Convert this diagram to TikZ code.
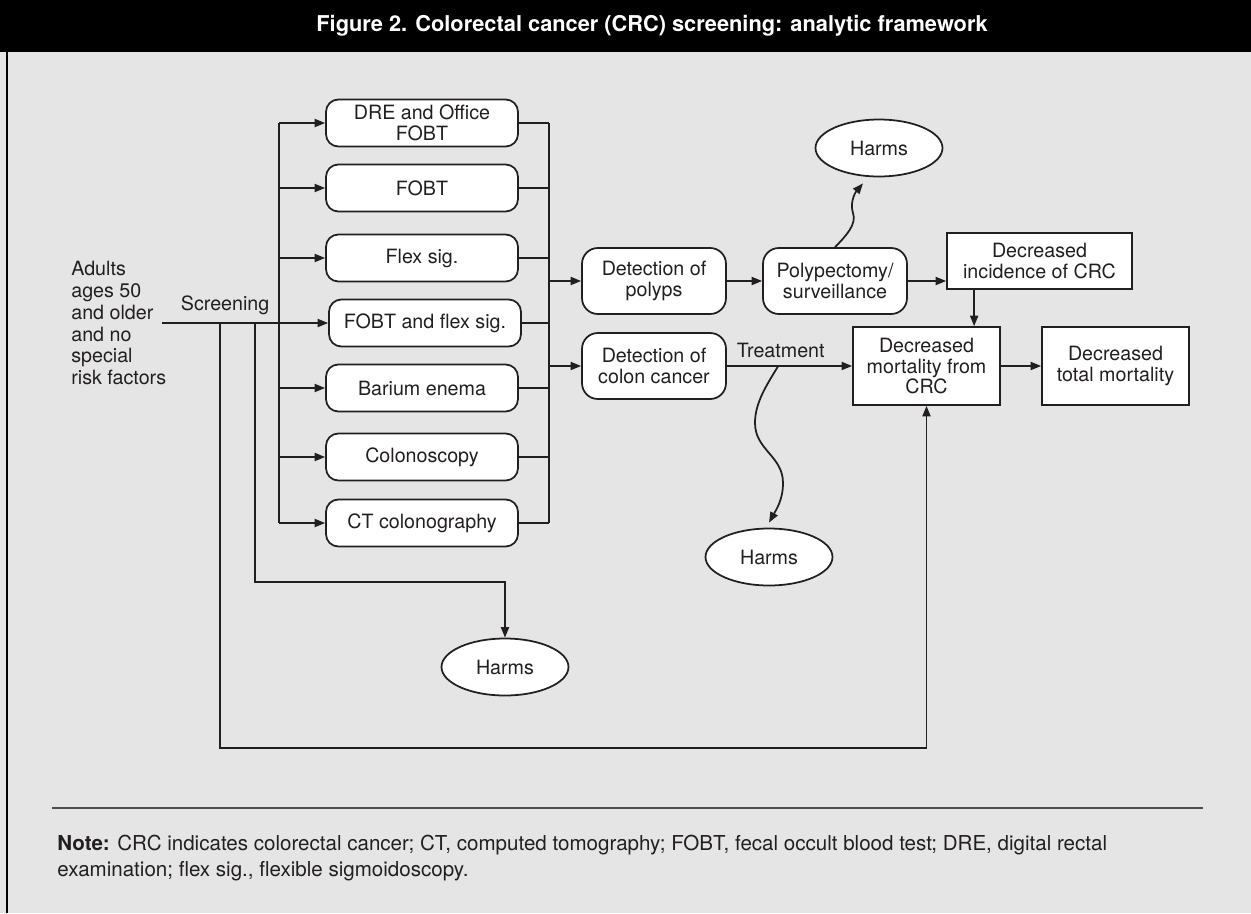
\documentclass[tikz,border=0pt]{standalone}
\usepackage{fontspec}
\setmainfont{TeX Gyre Heros}
\usepackage{xcolor}
\usetikzlibrary{shapes.geometric,arrows.meta,positioning}
\definecolor{ink}{HTML}{231F20}
\definecolor{panel}{HTML}{E5E5E5}
\definecolor{rulegray}{HTML}{4D4D4D}
\newcommand{\boxfont}{\fontsize{11.2}{11.6}\selectfont}
\tikzstyle{arrow} = [line width=1pt,-{Triangle[length=6pt,width=4.6pt]}]
\tikzstyle{wire} = [line width=1pt]
\tikzstyle{test} = [draw=ink,fill=white,line width=1pt,rounded corners=7pt,minimum width=3.84cm,minimum height=0.94cm,inner sep=0pt,align=center,font=\boxfont]
\tikzstyle{stage} = [test,minimum width=2.88cm,minimum height=1.32cm,rounded corners=9pt]
\tikzstyle{outcome} = [draw=ink,fill=white,line width=1pt,inner sep=0pt,align=center,font=\boxfont]
\tikzstyle{harm} = [ellipse,draw=ink,fill=white,line width=1pt,minimum width=2.54cm,minimum height=1.14cm,inner sep=0pt,font=\boxfont]

\begin{document}
\begin{tikzpicture}[x=0.02cm,y=-0.02cm,color=ink]
          % frame
          \fill[panel] (0,0) rectangle (1251,913);
          \useasboundingbox (0,0) rectangle (1251,913);
          \fill[black] (0,0) rectangle (1251,52);
          \draw[black,line width=1.1pt] (7,52) -- (7,913);
          \node[text=white,font=\bfseries\fontsize{12.4}{14}\selectfont] (title) at (652,26) {Figure 2. Colorectal cancer (CRC) screening: analytic framework};

          % population and tests
          \node[align=left,anchor=west,inner sep=0pt,font=\fontsize{11.2}{12.5}\selectfont] (adults) at (71,323) {Adults\\ages 50\\and older\\and no\\special\\risk factors};
          \coordinate (scr) at (162,323);
          \node[test] (dre) at (422,123) {DRE and Office\\FOBT};
          \node[test] (fobt) at (422,188) {FOBT};
          \node[test] (flex) at (422,258) {Flex sig.};
          \node[test] (combo) at (425,323) {FOBT and flex sig.};
          \node[test] (barium) at (422,388) {Barium enema};
          \node[test] (colo) at (422,457) {Colonoscopy};
          \node[test] (ctc) at (422,523) {CT colonography};
          \coordinate (busL) at (279,0);
          \coordinate (busR) at (549,0);
          \draw[arrow] (scr) -- node[pos=0.38,above=1pt,font=\boxfont] (scrlbl) {Screening} (combo.west);
          \draw[wire] (busL |- dre.west) -- (busL |- ctc.west);
          \foreach \t in {dre,fobt,flex,barium,colo,ctc}
            \draw[arrow] (busL |- \t.west) -- (\t.west);
          \draw[wire] (busR |- dre.east) -- (busR |- ctc.east);
          \foreach \t in {dre,fobt,flex,combo,barium,colo,ctc}
            \draw[wire] (\t.east) -- (busR |- \t.east);

          % detection and outcomes
          \node[stage] (polyps) at (654,281) {Detection of\\polyps};
          \node[stage] (cancer) at (654,366) {Detection of\\colon cancer};
          \node[stage] (polypect) at (835,281) {Polypectomy/\\surveillance};
          \node[outcome,minimum width=3.7cm,minimum height=1.12cm] (incid) at (1039.5,261) {Decreased\\incidence of CRC};
          \node[outcome,minimum width=2.94cm,minimum height=1.56cm] (mort) at (926.5,366) {Decreased\\mortality from\\CRC};
          \node[outcome,minimum width=2.94cm,minimum height=1.56cm] (total) at (1115.5,366) {Decreased\\total mortality};
          \draw[arrow] (busR |- polyps.west) -- (polyps.west);
          \draw[arrow] (busR |- cancer.west) -- (cancer.west);
          \draw[arrow] (polyps) -- (polypect);
          \draw[arrow] (polypect.east) -- (polypect.east -| incid.west);
          \coordinate (incdrop) at ([xshift=0.56cm]incid.south west);
          \draw[arrow] (incdrop) -- (incdrop |- mort.north);
          \draw[arrow] (cancer.east) -- node[pos=0.43,above=1pt,font=\boxfont] (treatlbl) {Treatment} coordinate[pos=0.41] (treat) (cancer.east -| mort.west);
          \draw[arrow] (mort) -- (total);

          % harms
          \node[harm] (harmsA) at (879,148) {Harms};
          \node[harm] (harmsB) at (769,557) {Harms};
          \node[harm] (harmsC) at (505,667) {Harms};
          \draw[arrow] (polypect.north) .. controls (846,236) and (857,224) .. (853,213) .. controls (850,204) and (854,194) .. ([xshift=-0.32cm,yshift=-0.12cm]harmsA.south);
          \draw[arrow] (treat) .. controls (766,386) and (755,403) .. (755,423) .. controls (755,450) and (783,456) .. (783,483) .. controls (783,500) and (776,510) .. ([yshift=0.1cm]harmsB.north);
          \draw[arrow] (255,323) -- (255,582) -| (harmsC.north);
          \draw[arrow] (220,323) -- (220,748) -| (mort.south);

          % note
          \draw[rulegray,line width=1.2pt] (52,808) -- (1203,808);
          \node[anchor=north west,align=left,inner sep=0pt,font=\fontsize{11.7}{14.8}\selectfont] (note) at (57,835) {\textbf{Note:} CRC indicates colorectal cancer; CT, computed tomography; FOBT, fecal occult blood test; DRE, digital rectal\\examination; flex sig., flexible sigmoidoscopy.};
\end{tikzpicture}
\end{document}
